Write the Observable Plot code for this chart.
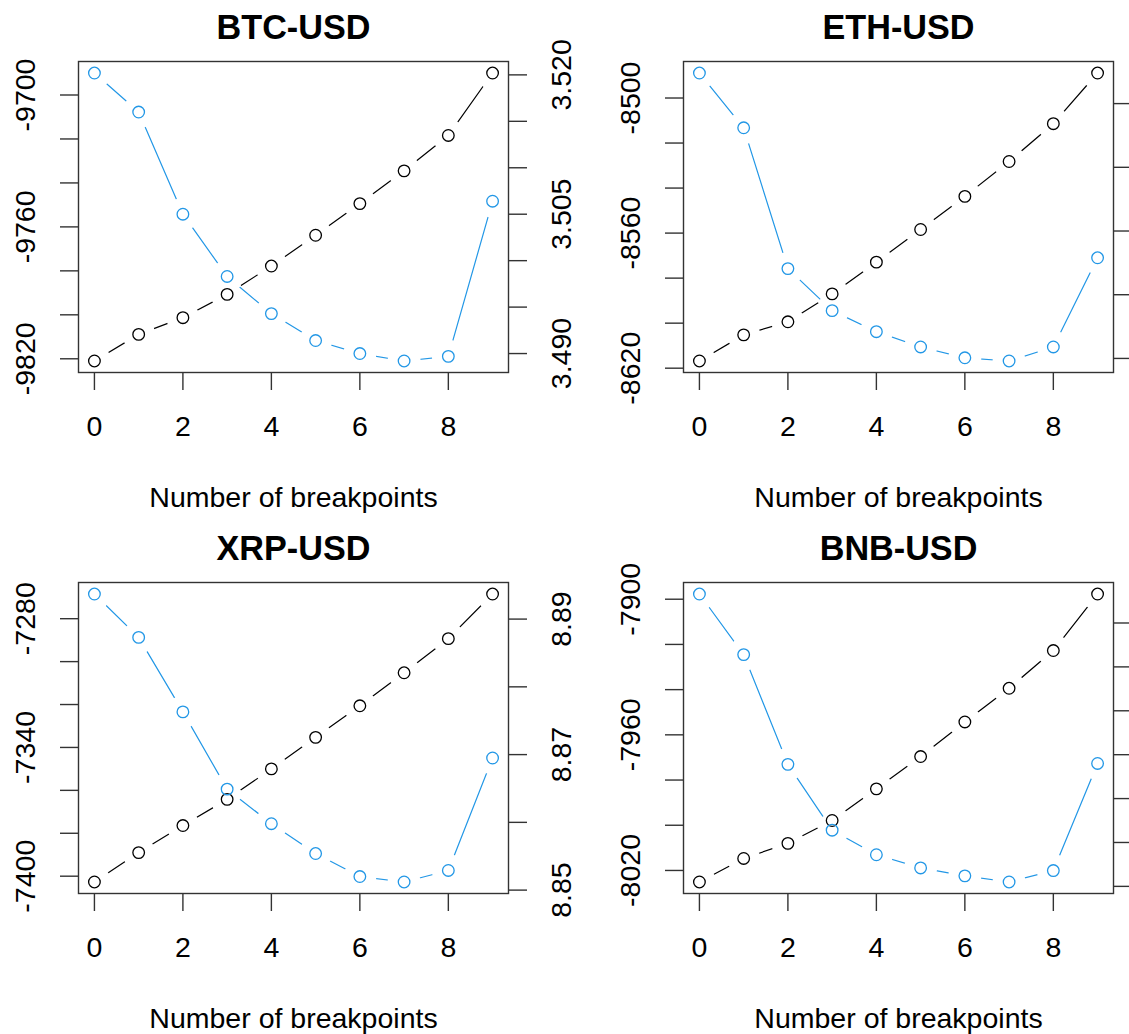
<!DOCTYPE html>
<html>
<head>
<meta charset="utf-8">
<script src="https://cdn.jsdelivr.net/npm/d3@7"></script>
<script src="https://cdn.jsdelivr.net/npm/@observablehq/plot@0.6"></script>
<style>
html, body { margin: 0; padding: 0; background: #fff; }
#wrap { position: relative; width: 1129px; height: 1034px; overflow: hidden; background: #fff; }
.panel { position: absolute; width: 605px; height: 521px; }
.panel svg { max-width: none !important; width: 605px !important; height: 521px !important; }
</style>
</head>
<body>
<div id="wrap"></div>
<script>
// ---- data ----
const breaks = [0, 1, 2, 3, 4, 5, 6, 7, 8, 9];
const xTicks = [0, 2, 4, 6, 8];
const xLabel = "Number of breakpoints";

const titleBTC = "BTC-USD";
const bicBTC = [-9821.0, -9808.9, -9801.3, -9790.7, -9777.8, -9763.8, -9749.4, -9734.5, -9718.4, -9690.0];
const rssBTC = [3.5202, 3.5160, 3.5050, 3.4983, 3.4943, 3.4914, 3.4900, 3.4892, 3.4897, 3.5064];
const leftTicksBTC = [-9820, -9800, -9780, -9760, -9740, -9720, -9700];
const leftLabelsBTC = [-9820, -9760, -9700];
const rightTicksBTC = [3.490, 3.495, 3.500, 3.505, 3.510, 3.515, 3.520];
const rightLabelsBTC = [3.490, 3.505, 3.520];

const titleETH = "ETH-USD";
const bicETH = [-8616.8, -8605.2, -8599.4, -8587.0, -8572.9, -8558.4, -8543.7, -8528.2, -8511.4, -8488.9];
const rssETH = [4.1048, 4.0962, 4.0741, 4.0675, 4.0642, 4.0618, 4.0601, 4.0596, 4.0618, 4.0758];
const leftTicksETH = [-8620, -8600, -8580, -8560, -8540, -8520, -8500];
const leftLabelsETH = [-8620, -8560, -8500];
const rightTicksETH = [4.06, 4.07, 4.08, 4.09, 4.10];
const rightLabelsETH = [];

const titleXRP = "XRP-USD";
const bicXRP = [-7402.7, -7389.0, -7376.4, -7364.2, -7350.0, -7335.3, -7320.6, -7305.2, -7289.3, -7268.5];
const rssXRP = [8.8937, 8.8873, 8.8763, 8.8649, 8.8598, 8.8554, 8.8520, 8.8512, 8.8529, 8.8695];
const leftTicksXRP = [-7400, -7380, -7360, -7340, -7320, -7300, -7280];
const leftLabelsXRP = [-7400, -7340, -7280];
const rightTicksXRP = [8.85, 8.86, 8.87, 8.88, 8.89];
const rightLabelsXRP = [8.85, 8.87, 8.89];

const titleBNB = "BNB-USD";
const bicBNB = [-8025.1, -8014.7, -8008.0, -7997.9, -7983.9, -7969.6, -7954.3, -7939.4, -7922.7, -7897.7];
const rssBNB = [3.5683, 3.5614, 3.5489, 3.5414, 3.5386, 3.5371, 3.5362, 3.5355, 3.5368, 3.5490];
const leftTicksBNB = [-8020, -8000, -7980, -7960, -7940, -7920, -7900];
const leftLabelsBNB = [-8020, -7960, -7900];
const rightTicksBNB = [3.535, 3.540, 3.545, 3.550, 3.555, 3.560, 3.565];
const rightLabelsBNB = [];

const panels = [
  {title: titleBTC, bic: bicBTC, rss: rssBTC, lt: leftTicksBTC, ll: leftLabelsBTC, rt: rightTicksBTC, rl: rightLabelsBTC, dec: 3, left: 0, top: 0},
  {title: titleETH, bic: bicETH, rss: rssETH, lt: leftTicksETH, ll: leftLabelsETH, rt: rightTicksETH, rl: rightLabelsETH, dec: 2, left: 605, top: 0},
  {title: titleXRP, bic: bicXRP, rss: rssXRP, lt: leftTicksXRP, ll: leftLabelsXRP, rt: rightTicksXRP, rl: rightLabelsXRP, dec: 2, left: 0, top: 521},
  {title: titleBNB, bic: bicBNB, rss: rssBNB, lt: leftTicksBNB, ll: leftLabelsBNB, rt: rightTicksBNB, rl: rightLabelsBNB, dec: 3, left: 605, top: 521}
];

// ---- style ----
const W = 605, H = 521;
const FONT = "'Liberation Sans', Arial, Helvetica, sans-serif";
const FS = 28.5;
const BLUE = "#2297E6";
const AX = "#333333";

const wrap = document.getElementById("wrap");

panels.forEach((p, idx) => {
  const [bmin, bmax] = d3.extent(p.bic);
  const [rmin, rmax] = d3.extent(p.rss);
  const f = v => bmin + (v - rmin) * (bmax - bmin) / (rmax - rmin);
  const pad = 0.04 * (bmax - bmin);
  const rows = breaks.map((b, i) => ({b, bic: p.bic[i], rss: f(p.rss[i])}));

  const chart = Plot.plot({
    width: W, height: H,
    marginLeft: 78, marginRight: 97, marginTop: 61, marginBottom: 149,
    style: {fontFamily: FONT, fontSize: FS + "px", background: "transparent", color: "#000", overflow: "visible", maxWidth: "none"},
    x: {domain: [-0.36, 9.36], axis: null},
    y: {domain: [bmin - pad, bmax + pad], axis: null},
    marks: [
      Plot.axisX(xTicks, {tickSize: 18, tickFormat: () => "", label: null, stroke: AX, strokeWidth: 1.4}),
      Plot.text(xTicks, {x: d => d, frameAnchor: "bottom", dy: 54.5, text: d => String(d), fontSize: FS, lineAnchor: "middle", fill: "#000"}),
      Plot.axisY(p.lt, {anchor: "left", tickSize: 18, tickFormat: () => "", label: null, stroke: AX, strokeWidth: 1.4}),
      Plot.text(p.ll, {y: d => d, frameAnchor: "left", dx: -53, rotate: -90, text: d => String(d), fontSize: FS, lineAnchor: "middle", textAnchor: "middle", fill: "#000"}),
      Plot.axisY(p.rt.map(f), {anchor: "right", tickSize: 18, tickFormat: () => "", label: null, stroke: AX, strokeWidth: 1.4}),
      Plot.text(p.rl, {y: d => f(d), frameAnchor: "right", dx: 53, rotate: -90, text: d => d.toFixed(p.dec), fontSize: FS, lineAnchor: "middle", textAnchor: "middle", fill: "#000"}),
      Plot.text([p.title], {frameAnchor: "top", dy: -33.5, text: d => d, fontSize: 34.2, fontWeight: "bold", lineAnchor: "middle", fill: "#000"}),
      Plot.text([xLabel], {frameAnchor: "bottom", dy: 125, text: d => d, fontSize: FS, lineAnchor: "middle", fill: "#000"}),
      Plot.frame({stroke: AX, strokeWidth: 1.4}),
      Plot.line(rows, {x: "b", y: "bic", stroke: "#000", strokeWidth: 1.2}),
      Plot.line(rows, {x: "b", y: "rss", stroke: BLUE, strokeWidth: 1.2}),
      Plot.dot(rows, {x: "b", y: "bic", r: 5.8, stroke: "#000", strokeWidth: 1.3, fill: "none"}),
      Plot.dot(rows, {x: "b", y: "rss", r: 5.8, stroke: BLUE, strokeWidth: 1.3, fill: "none"})
    ]
  });

  // gaps around points (R type = "b"), positions from Plot's own scales
  const sx = chart.scale("x"), sy = chart.scale("y");
  const ax = sx.apply ? v => sx.apply(v) : d3.scaleLinear(sx.domain, sx.range);
  const ay = sy.apply ? v => sy.apply(v) : d3.scaleLinear(sy.domain, sy.range);
  const svg = d3.select(chart);
  const defs = svg.append("defs");
  const lineGroups = svg.selectAll('g[aria-label="line"]').nodes();
  ["bic", "rss"].forEach((key, k) => {
    const id = `gapmask_${idx}_${k}`;
    const m = defs.append("mask").attr("id", id).attr("maskUnits", "userSpaceOnUse")
      .attr("x", -10).attr("y", -10).attr("width", W + 20).attr("height", H + 20);
    m.append("rect").attr("x", -10).attr("y", -10).attr("width", W + 20).attr("height", H + 20).attr("fill", "white");
    rows.forEach(r => m.append("circle").attr("cx", ax(r.b)).attr("cy", ay(r[key])).attr("r", 16.5).attr("fill", "black"));
    if (lineGroups[k]) d3.select(lineGroups[k]).attr("mask", `url(#${id})`);
  });

  const div = document.createElement("div");
  div.className = "panel";
  div.style.left = p.left + "px";
  div.style.top = p.top + "px";
  div.appendChild(chart);
  wrap.appendChild(div);
});
</script>
</body>
</html>
